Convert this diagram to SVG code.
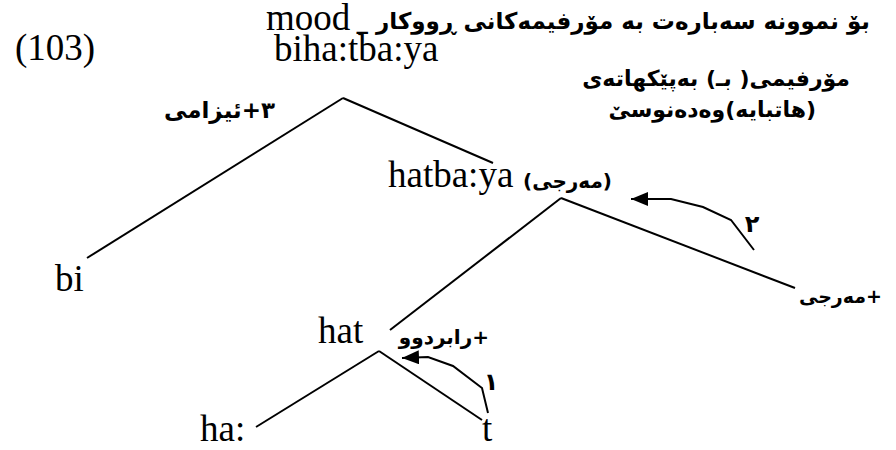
<svg xmlns="http://www.w3.org/2000/svg" width="896" height="450" viewBox="0 0 896 450">
<defs>
<style>
.lat{font-family:"Liberation Serif","Times New Roman",serif;font-size:37px;fill:#000}
.ar{font-family:"DejaVu Sans","Noto Sans",sans-serif;font-weight:bold;fill:#000;direction:rtl;unicode-bidi:embed;text-anchor:start}
.ln{stroke:#000;stroke-width:2;fill:none}
.num{font-family:"DejaVu Sans",sans-serif;font-weight:bold;font-size:24px;fill:#000;text-anchor:middle}
</style>
<marker id="ah" markerUnits="userSpaceOnUse" markerWidth="18" markerHeight="14" refX="17" refY="7" orient="auto"><path d="M0,0 L17,7 L0,14 z" fill="#000"/></marker>
</defs>
<rect width="896" height="450" fill="#fff"/>
<g id="title">
<text class="lat" x="266" y="30" font-size="28">mood</text>
<text class="ar" x="870" y="29" font-size="23">بۆ نموونە سەبارەت بە مۆرفیمەکانی ڕووکار _</text>
</g>
<g id="note">
<text class="ar" x="850" y="86" font-size="22">مۆرفیمی( بـ) بەپێکهاتەی</text>
<text class="ar" x="816" y="117" font-size="22">(هاتبایە)وەدەنوسێ</text>
</g>
<g id="example-number"><text class="lat" x="15" y="60" font-size="32">(103)</text></g>
<g id="node-root"><text class="lat" x="274" y="61" font-size="36">biha:tba:ya</text></g>
<g id="node-bi"><text class="lat" x="55" y="291">bi</text></g>
<g id="node-hatbaya">
<text class="lat" x="388" y="187">hatba:ya</text>
<text class="ar" x="612" y="188" font-size="20">(مەرجی)</text>
</g>
<g id="node-hat"><text class="lat" x="318" y="343">hat</text></g>
<g id="node-ha"><text class="lat" x="200" y="441">ha:</text></g>
<g id="node-t"><text class="lat" x="482" y="441">t</text></g>
<g id="connectors">
<line class="ln" x1="343" y1="98" x2="87" y2="258"/>
<line class="ln" x1="343" y1="98" x2="493" y2="163"/>
<line class="ln" x1="561" y1="198" x2="390" y2="330"/>
<line class="ln" x1="561" y1="198" x2="795" y2="288"/>
<line class="ln" x1="379" y1="351" x2="256" y2="427"/>
<line class="ln" x1="379" y1="351" x2="482" y2="420"/>
<polyline class="ln" points="754,250 731,220 703,207 671,199 631,199" marker-end="url(#ah)"/>
<polyline class="ln" points="488,413 482,388 453,366 428,357 402,358" marker-end="url(#ah)"/>
</g>
<g id="labels">
<text class="ar" x="275" y="118" font-size="23">٣+ئیزامی</text>
<text class="ar" x="882" y="303" font-size="19">+مەرجی</text>
<text class="ar" x="489" y="344" font-size="20">+رابردوو</text>
<text class="num" x="752" y="232">٢</text>
<text class="num" x="491" y="390">١</text>
</g>
</svg>
